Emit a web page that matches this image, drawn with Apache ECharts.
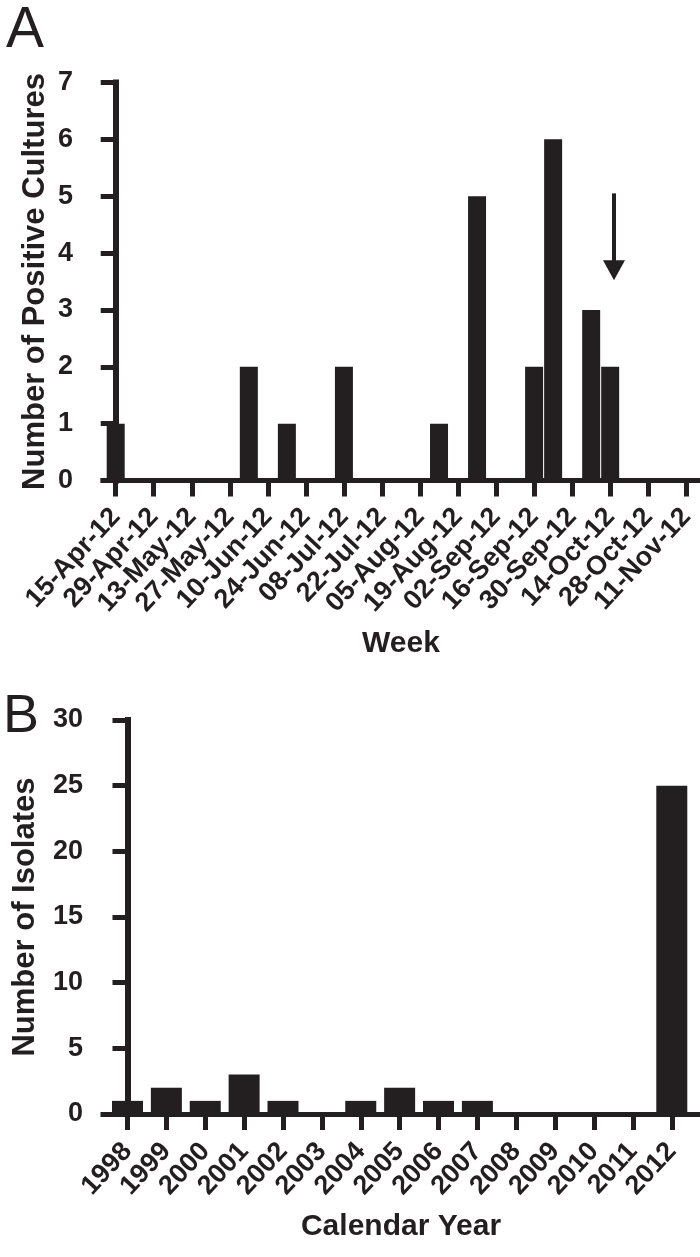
<!DOCTYPE html>
<html>
<head>
<meta charset="utf-8">
<script src="https://cdn.jsdelivr.net/npm/echarts@6/dist/echarts.min.js"></script>
<style>
html,body{margin:0;padding:0;background:#fff;}
#chart{width:700px;height:1257px;}
</style>
</head>
<body>
<div id="chart"></div>
<script>
// Panel A: weekly positive cultures (week starting dates)
const weeks = ['15-Apr-12','22-Apr-12','29-Apr-12','06-May-12','13-May-12','20-May-12','27-May-12',
  '03-Jun-12','10-Jun-12','17-Jun-12','24-Jun-12','01-Jul-12','08-Jul-12','15-Jul-12','22-Jul-12',
  '29-Jul-12','05-Aug-12','12-Aug-12','19-Aug-12','26-Aug-12','02-Sep-12','09-Sep-12','16-Sep-12',
  '23-Sep-12','30-Sep-12','07-Oct-12','14-Oct-12','21-Oct-12','28-Oct-12','04-Nov-12','11-Nov-12'];
const positiveCultures = [1,0,0,0,0,0,0,2,0,1,0,0,2,0,0,0,0,1,0,5,0,0,2,6,0,3,2,0,0,0,0];
const weekTickIndex = [0,2,4,6,8,10,12,14,16,18,20,22,24,26,28,30];
const arrowWeek = 26.2;           // arrow annotation position (week index)
const arrowFromTo = [5.05, 3.7];  // arrow y-range in counts
const yTicksA = [0,1,2,3,4,5,6,7];

// Panel B: isolates per calendar year
const years = ['1998','1999','2000','2001','2002','2003','2004','2005','2006','2007','2008','2009','2010','2011','2012'];
const isolates = [1,2,1,3,1,0,1,2,1,1,0,0,0,0,25];
const yearTickIndex = [0,1,2,3,4,5,6,7,8,9,10,11,12,13,14];
const yTicksB = [0,5,10,15,20,25,30];

const INK = '#231f20';
const FONT = 'Liberation Sans';

const chart = echarts.init(document.getElementById('chart'), null, {renderer:'canvas'});

function xAxisCommon(){
  return {
    type:'value',
    nameLocation:'middle',
    nameMoveOverlap:false,
    nameTextStyle:{fontFamily:FONT,fontWeight:'bold',fontSize:30,color:INK},
    axisLine:{show:true,lineStyle:{color:INK,width:5,cap:'square'}},
    axisTick:{show:true,length:16,lineStyle:{color:INK,width:5}},
    axisLabel:{show:true,rotate:47,fontFamily:FONT,fontWeight:'bold',fontSize:27,color:INK,
      hideOverlap:false},
    splitLine:{show:false},
    minorTick:{show:false}
  };
}
function yAxisCommon(){
  return {
    type:'value',
    nameLocation:'middle',
    nameMoveOverlap:false,
    nameTextStyle:{fontFamily:FONT,fontWeight:'bold',fontSize:31,color:INK},
    axisLine:{show:true,lineStyle:{color:INK,width:6,cap:'square'}},
    axisTick:{show:true,length:15,lineStyle:{color:INK,width:5}},
    axisLabel:{show:true,fontFamily:FONT,fontWeight:'bold',fontSize:27,color:INK},
    splitLine:{show:false}
  };
}

const xA = Object.assign(xAxisCommon(), {
  gridIndex:0, min:-0.668, max:30.67, name:'Week', nameGap:148
});
xA.axisTick.customValues = weekTickIndex;
xA.axisLabel.customValues = weekTickIndex;
xA.axisLabel.formatter = v => weeks[Math.round(v)];
xA.axisLabel.margin = 32;

const xB = Object.assign(xAxisCommon(), {
  gridIndex:1, min:-0.63, max:14.7, name:'Calendar Year', nameGap:98
});
xB.axisTick.customValues = yearTickIndex;
xB.axisLabel.customValues = yearTickIndex;
xB.axisLabel.formatter = v => years[Math.round(v)];
xB.axisLabel.margin = 33;

const yA = Object.assign(yAxisCommon(), {
  gridIndex:0, min:yTicksA[0], max:yTicksA[yTicksA.length-1], interval:1,
  name:'Number of Positive Cultures', nameGap:52
});
yA.axisLabel.margin = 30;
const yB = Object.assign(yAxisCommon(), {
  gridIndex:1, min:yTicksB[0], max:yTicksB[yTicksB.length-1], interval:5,
  name:'Number of Isolates', nameGap:62
});
yB.axisLabel.margin = 20;

chart.setOption({
  animation:false,
  backgroundColor:'#fff',
  grid:[
    {left:103, top:82.5, width:596, height:398, containLabel:false, outerBoundsMode:'none'},
    {left:103, top:720, width:596, height:394, containLabel:false, outerBoundsMode:'none'}
  ],
  xAxis:[xA, xB],
  yAxis:[yA, yB],
  graphic:[
    {type:'text', left:6, top:3, style:{text:'A', fontFamily:FONT, fontSize:57, fill:INK}},
    {type:'text', left:3, top:690, style:{text:'B', fontFamily:FONT, fontSize:54, fill:INK}}
  ],
  series:[
    {
      type:'bar', xAxisIndex:0, yAxisIndex:0, barWidth:18,
      itemStyle:{color:INK},
      data: positiveCultures.map((v,i)=>[i,v]),
      markLine:{
        silent:true,
        symbol:['none','triangle'],
        symbolSize:[22,20],
        label:{show:false},
        lineStyle:{color:INK,width:4,type:'solid'},
        data:[[{coord:[arrowWeek,arrowFromTo[0]]},{coord:[arrowWeek,arrowFromTo[1]]}]]
      }
    },
    {
      type:'bar', xAxisIndex:1, yAxisIndex:1, barWidth:31,
      itemStyle:{color:INK},
      data: isolates.map((v,i)=>[i,v])
    }
  ]
});
</script>
</body>
</html>
